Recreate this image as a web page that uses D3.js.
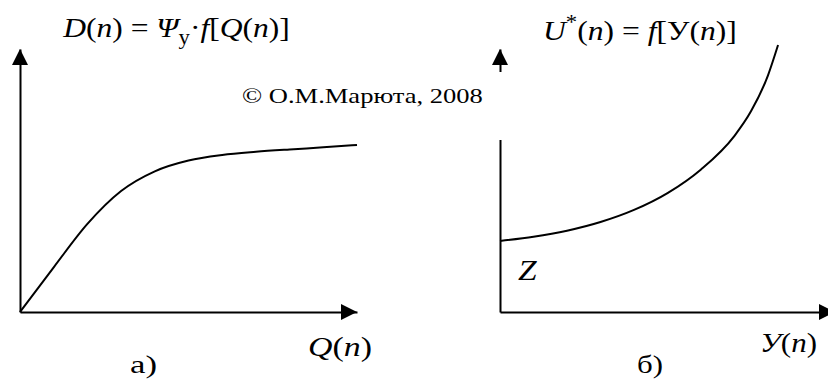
<!DOCTYPE html>
<html>
<head>
<meta charset="utf-8">
<script src="https://cdn.jsdelivr.net/npm/d3@7"></script>
<style>
  html, body { margin: 0; padding: 0; background: #fff; }
  svg { display: block; }
  text { font-family: "Liberation Serif", "Times New Roman", serif; fill: #000; }
</style>
</head>
<body>
<svg id="chart" width="828" height="381"></svg>
<script>
// а) D(n) as a function of Q(n): fast rise, then saturation
const qValues = [0, 10, 20, 30, 40, 50, 60, 70, 80, 90, 100];
const dValues = [0, 17, 33.5, 46, 53.5, 57.6, 59.7, 60.9, 61.8, 62.6, 63.5];

// б) U*(n) as a function of У(n): starts at level Z, grows ever faster
const yValues = [0, 10, 20, 30, 40, 50, 60, 70, 75, 80, 83];
const uValues = [27, 28.6, 30.9, 34.2, 38.8, 45.2, 54.2, 67, 76.5, 90, 101.5];

const svg = d3.select("#chart");

// scales for the two panels (arbitrary 0..100 units on each axis)
const xA = d3.scaleLinear().domain([0, 100]).range([20, 357]);
const yA = d3.scaleLinear().domain([0, 100]).range([312, 49]);
const xB = d3.scaleLinear().domain([0, 100]).range([500, 835]);
const yB = d3.scaleLinear().domain([0, 100]).range([312, 49]);

function bareAxis(g) {
  g.selectAll(".domain").attr("stroke", "#000").attr("stroke-width", 2);
}

// axes without ticks
svg.append("g").attr("transform", `translate(0,${yA(0)})`)
  .call(d3.axisBottom(xA).ticks(0).tickSizeOuter(0)).call(bareAxis);
svg.append("g").attr("transform", `translate(${xA(0)},0)`)
  .call(d3.axisLeft(yA).ticks(0).tickSizeOuter(0)).call(bareAxis);
svg.append("g").attr("transform", `translate(0,${yB(0)})`)
  .call(d3.axisBottom(xB).ticks(0).tickSizeOuter(0)).call(bareAxis);
svg.append("g").attr("transform", `translate(${xB(0)},0)`)
  .call(d3.axisLeft(yB).ticks(0).tickSizeOuter(0)).call(bareAxis);

// arrowheads at the axis ends
function arrowUp(x, tipY) {
  svg.append("path").attr("fill", "#000")
    .attr("d", `M${x},${tipY} L${x - 8},${tipY + 16} L${x + 8},${tipY + 16} Z`);
}
function arrowRight(tipX, y) {
  svg.append("path").attr("fill", "#000")
    .attr("d", `M${tipX},${y} L${tipX - 16},${y - 8} L${tipX - 16},${y + 8} Z`);
}
arrowUp(xA(0), yA(100));
arrowRight(xA(100), yA(0));
arrowUp(xB(0), yB(100));
arrowRight(xB(100), yB(0));

// curves
const lineA = d3.line().x((d, i) => xA(qValues[i])).y(d => yA(d)).curve(d3.curveMonotoneX);
const lineB = d3.line().x((d, i) => xB(yValues[i])).y(d => yB(d)).curve(d3.curveMonotoneX);

svg.append("path").datum(dValues).attr("d", lineA)
  .attr("fill", "none").attr("stroke", "#000").attr("stroke-width", 2);
svg.append("path").datum(uValues).attr("d", lineB)
  .attr("fill", "none").attr("stroke", "#000").attr("stroke-width", 2);

// rich text label, stretched horizontally to fit [x0, x1]
function label(parts, x0, x1, baseline, size, bg) {
  const g = svg.append("g");
  if (bg) {
    g.append("rect").attr("fill", "#fff")
      .attr("x", bg[0]).attr("y", bg[1]).attr("width", bg[2]).attr("height", bg[3]);
  }
  const inner = g.append("g");
  const t = inner.append("text").attr("font-size", size);
  let shift = 0;
  parts.forEach(p => {
    const ts = t.append("tspan").text(p.t);
    if (p.i) ts.attr("font-style", "italic");
    let want = 0;
    if (p.sub) { want = size * 0.25; ts.attr("font-size", size * 0.72); }
    if (p.sup) { want = -size * 0.4; ts.attr("font-size", size * 0.72); }
    if (want !== shift) { ts.attr("dy", want - shift); shift = want; }
  });
  const bb = t.node().getBBox();
  const s = (x1 - x0) / bb.width;
  inner.attr("transform", `translate(${x0 - bb.x * s},${baseline}) scale(${s},1)`);
}

const FS = 28;

// panel titles
label([{t: "D", i: 1}, {t: "("}, {t: "n", i: 1}, {t: ") = "}, {t: "Ψ", i: 1},
       {t: "у", sub: 1}, {t: "·"}, {t: "f", i: 1}, {t: "["}, {t: "Q", i: 1},
       {t: "("}, {t: "n", i: 1}, {t: ")]"}], 62, 290, 37, FS);
label([{t: "U", i: 1}, {t: "*", sup: 1}, {t: "("}, {t: "n", i: 1}, {t: ") = "},
       {t: "f", i: 1}, {t: "[У("}, {t: "n", i: 1}, {t: ")]"}], 543, 737, 40, FS);

// copyright note (its white box interrupts the right vertical axis)
label([{t: "© О.М.Марюта, 2008"}], 242, 483, 103, 22, [236, 72, 268, 68]);

// axis names and panel letters
label([{t: "Q", i: 1}, {t: "("}, {t: "n", i: 1}, {t: ")"}], 308, 372, 356, FS);
label([{t: "У", i: 1}, {t: "("}, {t: "n", i: 1}, {t: ")"}], 760, 817, 352, FS);
label([{t: "Z", i: 1}], 518, 537, 280, 30);
label([{t: "а)"}], 130, 157, 373, 26);
label([{t: "б)"}], 637, 663, 373, 26);
</script>
</body>
</html>
